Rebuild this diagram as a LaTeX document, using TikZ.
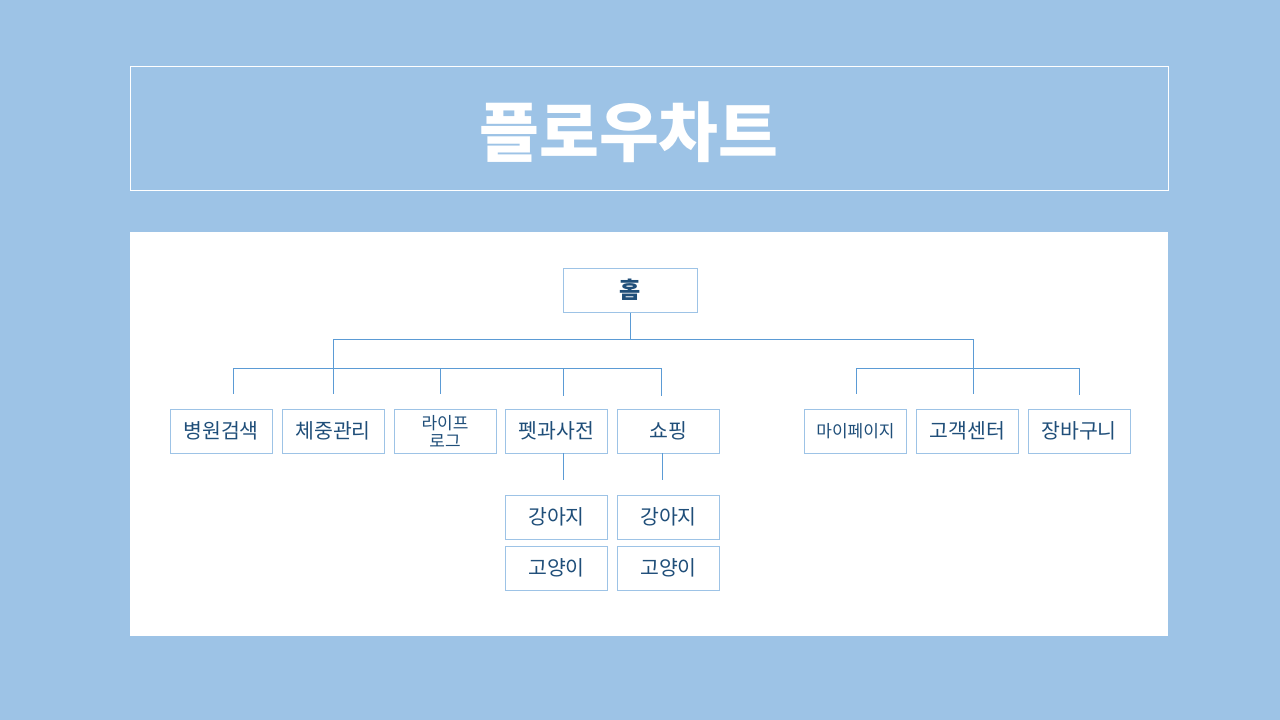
\documentclass[tikz,border=0pt]{standalone}
\usepackage{fontspec}
\setmainfont{Noto Sans CJK KR}
\definecolor{bg}{HTML}{9DC3E6}
\definecolor{boxc}{HTML}{9DC3E6}
\definecolor{linec}{HTML}{5B9BD5}
\definecolor{txt}{HTML}{1F4E79}
\begin{document}
\begin{tikzpicture}[x=1pt,y=-1pt,
  boxst/.style={draw=boxc, line width=1pt, fill=white, minimum width=102pt, minimum height=44pt, inner sep=0pt, text=txt, font=\fontsize{20.5}{22}\selectfont},
  smallst/.style={boxst, font=\fontsize{17}{18}\selectfont},
  conn/.style={draw=linec, line width=1pt}]
\fill[bg] (0,0) rectangle (1280,720);
\useasboundingbox (0,0) rectangle (1280,720);
% title
\draw[white, line width=0.8pt] (130,66) rectangle (1168,190);
\node[font=\fontsize{65}{68}\bfseries\selectfont, text=white] (title) at (629,132) {플로우차트};
% panel
\fill[white] (130,232) rectangle (1168,636);
% nodes
\node[boxst, minimum width=134pt, font=\fontsize{23}{24}\bfseries\selectfont] (home) at (630,290) {홈};
\node[boxst] (hosp) at (221,431) {병원검색};
\node[boxst] (weight) at (333,431) {체중관리};
\node[smallst, align=center] (life) at (445,431) {라이프\\로그};
\node[boxst] (pet) at (556.5,431) {펫과사전};
\node[boxst] (shop) at (668.5,431) {쇼핑};
\node[smallst] (my) at (855.5,431) {마이페이지};
\node[boxst] (cs) at (967.5,431) {고객센터};
\node[boxst] (cart) at (1079,431) {장바구니};
\node[boxst] (dog1) at (556.5,517) {강아지};
\node[boxst] (dog2) at (668.5,517) {강아지};
\node[boxst] (cat1) at (556.5,568) {고양이};
\node[boxst] (cat2) at (668.5,568) {고양이};
% coordinates
\coordinate (j0) at (630,339);
\coordinate (jl) at (333,339);
\coordinate (jr) at (973,339);
\coordinate (lb) at (333,394);
\coordinate (rb) at (973,394);
\coordinate (l1) at (233,368);
\coordinate (l1e) at (233,394);
\coordinate (l3) at (440,368);
\coordinate (l3e) at (440,394);
\coordinate (l4) at (563,368);
\coordinate (l4e) at (563,396);
\coordinate (l5) at (661,368);
\coordinate (l5e) at (661,396);
\coordinate (r1) at (856,368);
\coordinate (r1e) at (856,394);
\coordinate (r3) at (1079,368);
\coordinate (r3e) at (1079,395);
\coordinate (p1) at (563,453);
\coordinate (p1e) at (563,480);
\coordinate (s1) at (662,453);
\coordinate (s1e) at (662,480);
% connectors
\draw[conn] (home.south) -- (j0);
\draw[conn] (jl) -- (jr);
\draw[conn] (jl) -- (lb);
\draw[conn] (jr) -- (rb);
\draw[conn] (l1) -- (l5);
\draw[conn] (l1) -- (l1e);
\draw[conn] (l3) -- (l3e);
\draw[conn] (l4) -- (l4e);
\draw[conn] (l5) -- (l5e);
\draw[conn] (r1) -- (r3);
\draw[conn] (r1) -- (r1e);
\draw[conn] (r3) -- (r3e);
\draw[conn] (p1) -- (p1e);
\draw[conn] (s1) -- (s1e);
\end{tikzpicture}
\end{document}
